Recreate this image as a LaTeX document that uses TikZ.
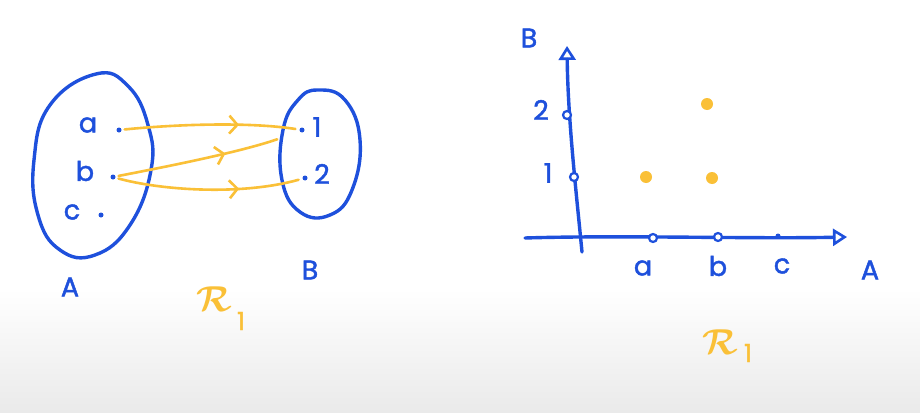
\documentclass[tikz,border=0pt]{standalone}
\usepackage{graphicx}
\usepackage{fontspec}
\setmainfont{Poppins}
\newfontfamily\hand{Poppins}[FakeBold=1.6]
\usetikzlibrary{arrows.meta,decorations.markings}
\definecolor{pen}{RGB}{30,80,220}
\definecolor{hl}{RGB}{250,192,55}
\definecolor{bgbot}{RGB}{234,234,234}
\newcommand{\bigR}{\scalebox{3.6}{\boldmath$\mathcal{R}$}}
\begin{document}
\begin{tikzpicture}[x=1pt,y=-1pt,
  penline/.style={draw=pen, line width=3.4pt, line cap=round, line join=round},
  lbl/.style={text=pen, font=\hand\fontsize{27}{30}\selectfont, inner sep=0pt},
  rlbl/.style={text=hl, font=\fontsize{10}{12}\selectfont, inner sep=0pt},
  rsub/.style={text=hl, font=\hand\fontsize{25}{28}\selectfont, inner sep=0pt},
  dotn/.style={circle, fill=pen, inner sep=0pt, minimum size=5pt},
  tickn/.style={circle, draw=pen, fill=white, line width=2.2pt, inner sep=0pt, minimum size=8pt},
  blob/.style={circle, fill=hl, inner sep=0pt, minimum size=12pt},
  rel/.style={draw=hl, line width=2.6pt, line cap=round, shorten >=4pt, shorten <=3pt,
    postaction=decorate,
    decoration={markings, mark=at position 0.66 with {\arrow{Straight Barb[length=8pt,width=18pt,line width=2.6pt]}}}},
  axisarrow/.style={-{Triangle[open,length=14pt,width=17pt,line width=2.6pt]}}
]
\useasboundingbox (0,0) rectangle (920,412);
\fill[white] (0,0) rectangle (920,290);
\shade[top color=white, bottom color=bgbot] (0,289) rectangle (920,412);

% ---------- left: arrow diagram ----------
\draw[penline] plot[smooth cycle, tension=0.75] coordinates
  {(96,74) (128,86) (148,125) (151,170) (130,225) (95,255) (60,250) (38,215) (34,160) (50,105)};
\draw[penline] plot[smooth cycle, tension=0.75] coordinates
  {(318,90) (345,100) (360,140) (352,190) (330,215) (300,212) (282,180) (283,130) (298,100)};

\node[lbl] (ta) at (88,125) {a};
\node[lbl] (tb) at (85,171) {b};
\node[lbl] (tc) at (72,212) {c};
\node[dotn] (pa) at (119,130) {};
\node[dotn] (pb) at (113,177) {};
\node[dotn] (pc) at (101,215) {};
\node[dotn] (p1) at (302,130) {};
\node[dotn] (p2) at (305,178) {};
\node[lbl] (t1) at (317,127) {1};
\node[lbl] (t2) at (322,174) {2};

\draw[rel] (pa) .. controls (180,124) and (250,122) .. (p1);
\draw[rel] (pb) .. controls (170,166) and (240,152) .. (281,138);
\draw[rel] (pb) .. controls (160,190) and (240,196) .. (p2);

\node[lbl] (labA) at (70,287) {A};
\node[lbl] (labB) at (310,270) {B};
\node[rlbl] (rel1) at (214,299) {\bigR};
\node[rsub] (sub1) at (241,321) {1};

% ---------- right: graph ----------
\coordinate (yb) at (582,252);
\coordinate (yt) at (567,46);
\coordinate (xl) at (525,238);
\coordinate (xr) at (847,237);
\draw[penline, axisarrow] (yb) .. controls (576,190) and (568,120) .. (yt);
\draw[penline, axisarrow] (xl) .. controls (620,235) and (750,239) .. (xr);

\node[tickn] (y2) at (567,115) {};
\node[tickn] (y1) at (574,177) {};
\node[tickn] (xa) at (653,238) {};
\node[tickn] (xb) at (718,237) {};
\node[circle, fill=pen, inner sep=0pt, minimum size=5pt] (xc) at (778,236) {};

\node[lbl] (gB) at (529,38) {B};
\node[lbl] (g2) at (541,110) {2};
\node[lbl] (g1) at (548,173) {1};
\node[lbl] (ga) at (643,268) {a};
\node[lbl] (gb) at (718,266) {b};
\node[lbl] (gc) at (782,266) {c};
\node[lbl] (gA) at (870,270) {A};

\node[blob] (r1) at (646,177) {};
\node[blob] (r2) at (712,178) {};
\node[blob] (r3) at (707,104) {};

\node[rlbl] (rel2) at (720,342) {\bigR};
\node[rsub] (sub2) at (748,353) {1};
\end{tikzpicture}
\end{document}
